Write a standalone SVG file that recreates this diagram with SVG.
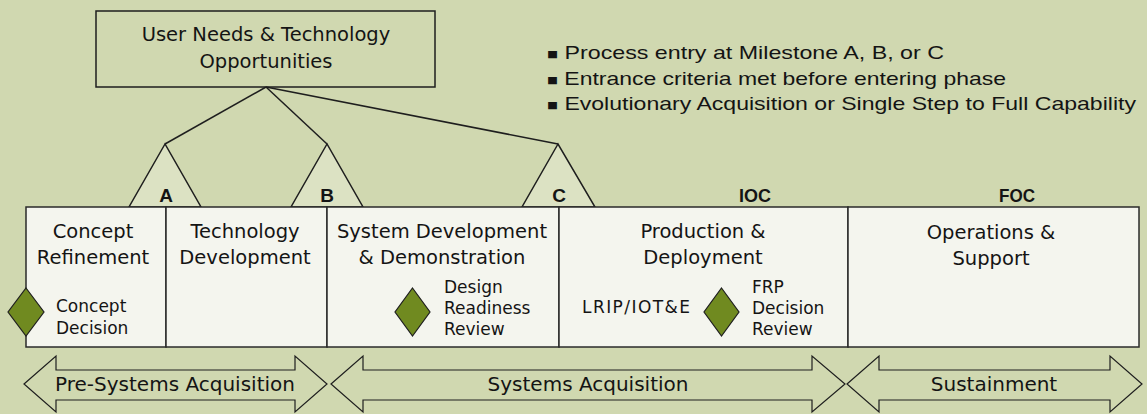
<svg xmlns="http://www.w3.org/2000/svg" width="1147" height="414" viewBox="0 0 1147 414">
<style>
.ln{stroke:#1e1e1e;stroke-width:1.5;fill:none}
.tri{fill:#DCE2C3;stroke:#1e1e1e;stroke-width:1.5}
.box{fill:#F4F5EE;stroke:#2a2a2a;stroke-width:1.5}
.dia{fill:#708A20;stroke:#1e1e1e;stroke-width:1.2}
.arr{fill:#D0D8B0;stroke:#1e1e1e;stroke-width:1.2}
.t{font-family:"DejaVu Sans","Verdana",sans-serif;font-size:19.5px;fill:#141414;text-anchor:middle}
.s{font-family:"DejaVu Sans","Verdana",sans-serif;font-size:17px;fill:#141414}
.a{font-family:"DejaVu Sans","Verdana",sans-serif;font-size:20px;fill:#141414;text-anchor:middle}
.b{font-family:"Liberation Sans Narrow","Liberation Sans",Arial,sans-serif;font-size:19px;fill:#141414}
.bu{font-size:15px}
.m{font-family:"Liberation Sans Narrow","Liberation Sans",Arial,sans-serif;font-size:19px;font-weight:bold;fill:#141414;text-anchor:middle}
</style>
<rect width="1147" height="414" fill="#D0D8B0"/>
<g id="top-box">
<rect x="96" y="11" width="339" height="76" fill="#D0D8B0" stroke="#1e1e1e" stroke-width="1.5"/>
<text class="t" x="266" y="41">User Needs &amp; Technology</text>
<text class="t" x="266" y="68">Opportunities</text>
</g>
<g id="bullets">
<text class="b" x="547" y="59" textLength="397" lengthAdjust="spacingAndGlyphs"><tspan class="bu">■</tspan> Process entry at Milestone A, B, or C</text>
<text class="b" x="547" y="85" textLength="459" lengthAdjust="spacingAndGlyphs"><tspan class="bu">■</tspan> Entrance criteria met before entering phase</text>
<text class="b" x="547" y="110" textLength="589" lengthAdjust="spacingAndGlyphs"><tspan class="bu">■</tspan> Evolutionary Acquisition or Single Step to Full Capability</text>
</g>
<g id="connectors">
<line class="ln" x1="266" y1="87" x2="165" y2="144"/>
<line class="ln" x1="266" y1="87" x2="327" y2="144"/>
<line class="ln" x1="266" y1="87" x2="558" y2="144"/>
</g>
<g id="milestone-A">
<polygon class="tri" points="165,144 129,207 201,207"/>
<text class="m" x="166" y="202">A</text>
</g>
<g id="milestone-B">
<polygon class="tri" points="327,144 291,207 363,207"/>
<text class="m" x="327" y="202">B</text>
</g>
<g id="milestone-C">
<polygon class="tri" points="558,144 522,207 595,207"/>
<text class="m" x="559" y="202">C</text>
</g>
<g id="IOC"><text class="m" x="755" y="202" textLength="32" lengthAdjust="spacingAndGlyphs">IOC</text></g>
<g id="FOC"><text class="m" x="1017" y="202" textLength="36" lengthAdjust="spacingAndGlyphs">FOC</text></g>
<g id="concept-refinement">
<rect class="box" x="26" y="207" width="140" height="140"/>
<text class="t" x="93" y="238">Concept</text>
<text class="t" x="93" y="264">Refinement</text>
</g>
<g id="technology-development">
<rect class="box" x="166" y="207" width="161" height="140"/>
<text class="t" x="245" y="238">Technology</text>
<text class="t" x="245" y="264">Development</text>
</g>
<g id="system-development">
<rect class="box" x="327" y="207" width="232" height="140"/>
<text class="t" x="442" y="238">System Development</text>
<text class="t" x="442" y="264">&amp; Demonstration</text>
</g>
<g id="production-deployment">
<rect class="box" x="559" y="207" width="289" height="140"/>
<text class="t" x="703" y="238">Production &amp;</text>
<text class="t" x="703" y="264">Deployment</text>
<text class="s" x="582" y="313" textLength="108" lengthAdjust="spacing">LRIP/IOT&amp;E</text>
</g>
<g id="operations-support">
<rect class="box" x="848" y="207" width="291" height="140"/>
<text class="t" x="991" y="239">Operations &amp;</text>
<text class="t" x="991" y="265">Support</text>
</g>
<g id="concept-decision">
<polygon class="dia" points="26,288 44,312 26,336 8,312"/>
<text class="s" x="56" y="312">Concept</text>
<text class="s" x="56" y="334">Decision</text>
</g>
<g id="design-readiness-review">
<polygon class="dia" points="412.5,288 430,312 412.5,336 395,312"/>
<text class="s" x="444" y="293">Design</text>
<text class="s" x="444" y="314">Readiness</text>
<text class="s" x="444" y="335">Review</text>
</g>
<g id="frp-decision-review">
<polygon class="dia" points="721.5,288 739,312 721.5,336 704,312"/>
<text class="s" x="752" y="293">FRP</text>
<text class="s" x="752" y="314">Decision</text>
<text class="s" x="752" y="335">Review</text>
</g>
<g id="pre-systems-acquisition">
<polygon class="arr" points="24,384 56,356 56,370 295,370 295,356 327,384 295,412 295,400 56,400 56,412"/>
<text class="a" x="175" y="391">Pre-Systems Acquisition</text>
</g>
<g id="systems-acquisition">
<polygon class="arr" points="331,384 363,356 363,370 812,370 812,356 845,384 812,412 812,400 363,400 363,412"/>
<text class="a" x="588" y="391">Systems Acquisition</text>
</g>
<g id="sustainment">
<polygon class="arr" points="847,384 879,356 879,370 1110,370 1110,356 1142,384 1110,412 1110,400 879,400 879,412"/>
<text class="a" x="994" y="391">Sustainment</text>
</g>
</svg>
